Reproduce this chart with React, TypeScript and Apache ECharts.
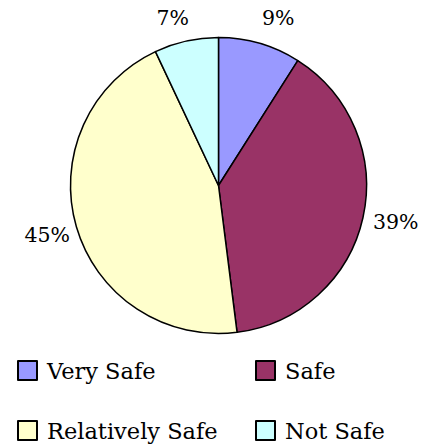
import React, { useEffect, useRef } from "react";
import * as echarts from "echarts";

const categories = ["Very Safe", "Safe", "Relatively Safe", "Not Safe"];
const values = [9, 39, 45, 7];
const colors = ["#9999FF", "#993366", "#FFFFCC", "#CCFFFF"];

// label placement (labelLine length, length2) per slice
const labelLineLengths = [
  [26.4, -10.2],
  [17.1, -11.6],
  [29.4, -26.9],
  [23.6, -12.9],
];
// legend item positions [left, top]
const legendPositions = [
  [17, 359],
  [255, 359],
  [17, 419],
  [255, 419],
];

export default function App() {
  const ref = useRef<HTMLDivElement>(null);
  useEffect(() => {
    if (!ref.current) return;
    const chart = echarts.init(ref.current, null, { renderer: "svg" });
    const font = "DejaVu Serif";
    chart.setOption({
      animation: false,
      backgroundColor: "#ffffff",
      textStyle: { fontFamily: font },
      legend: categories.map((name, i) => ({
        data: [name],
        left: legendPositions[i][0],
        top: legendPositions[i][1],
        padding: 0,
        itemWidth: 19,
        itemHeight: 19,
        icon: "rect",
        selectedMode: false,
        textStyle: {
          fontFamily: font,
          fontSize: 22.5,
          color: "#000",
          padding: [0, 0, 6, 5],
        },
      })),
      series: [
        {
          type: "pie",
          center: [218.5, 185.5],
          radius: 148,
          startAngle: 90,
          clockwise: true,
          avoidLabelOverlap: false,
          emphasis: { disabled: true },
          itemStyle: { borderColor: "#000", borderWidth: 1.5 },
          label: {
            show: true,
            position: "outside",
            formatter: "{c}%",
            fontFamily: font,
            fontSize: 20.5,
            color: "#000",
            bleedMargin: 0,
            overflow: "none",
          },
          labelLine: { show: false },
          data: categories.map((name, i) => ({
            name,
            value: values[i],
            itemStyle: { color: colors[i] },
            labelLine: {
              show: false,
              length: labelLineLengths[i][0],
              length2: labelLineLengths[i][1],
            },
          })),
        },
      ],
    });
    return () => chart.dispose();
  }, []);
  return (
    <div
      ref={ref}
      style={{ position: "absolute", left: 0, top: 0, width: 423, height: 444 }}
    />
  );
}
